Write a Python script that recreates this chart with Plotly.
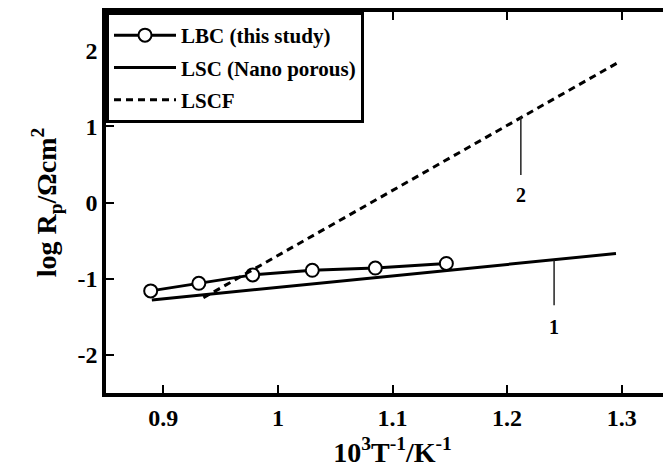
import plotly.graph_objects as go

# ---- data ----
lbc_x = [0.889, 0.931, 0.978, 1.030, 1.085, 1.147]
lbc_y = [-1.16, -1.06, -0.95, -0.89, -0.86, -0.80]

lsc_x = [0.890, 1.295]
lsc_y = [-1.28, -0.67]

lscf_x = [0.935, 1.296]
lscf_y = [-1.25, 1.83]

x_ticks = [0.9, 1.0, 1.1, 1.2, 1.3]
x_tick_labels = ["0.9", "1", "1.1", "1.2", "1.3"]
y_ticks = [-2, -1, 0, 1, 2]
y_tick_labels = ["-2", "-1", "0", "1", "2"]

# curve labels: (text, x, leader top y, leader bottom y, label y)
curve_labels = [("1", 1.241, -0.76, -1.35, -1.63),
                ("2", 1.212, 1.13, 0.36, 0.10)]

x_range = [0.85, 1.35]
y_range = [-2.5, 2.5]

FONT = "Liberation Serif"

fig = go.Figure()

fig.add_trace(go.Scatter(
    x=lbc_x, y=lbc_y, mode="lines+markers", name="<b>LBC (this study)</b>",
    line=dict(color="black", width=3),
    marker=dict(symbol="circle", size=13, color="white",
                line=dict(color="black", width=2)),
    legendgroup="a"))
fig.add_trace(go.Scatter(
    x=lsc_x, y=lsc_y, mode="lines", name="<b>LSC (Nano porous)</b>",
    line=dict(color="black", width=3), legendgroup="b"))
fig.add_trace(go.Scatter(
    x=lscf_x, y=lscf_y, mode="lines", name="<b>LSCF</b>",
    line=dict(color="black", width=3, dash="7px,5px"), legendgroup="c"))

# invisible trace to anchor the right-side tick axis
fig.add_trace(go.Scatter(x=[], y=[], yaxis="y2", showlegend=False,
                         hoverinfo="skip"))

for txt, lx, ytop, ybot, ylab in curve_labels:
    fig.add_shape(type="line", x0=lx, x1=lx, y0=ytop, y1=ybot,
                  xref="x", yref="y", line=dict(color="#222", width=1.5))
    fig.add_annotation(x=lx, y=ylab, text="<b>%s</b>" % txt, showarrow=False,
                       font=dict(family=FONT, size=20, color="black"))

fig.update_layout(
    width=671, height=473,
    margin=dict(l=98, r=0, t=0, b=88),
    plot_bgcolor="white", paper_bgcolor="white",
    font=dict(family=FONT, color="black"),
    showlegend=True,
    legend=dict(x=0, y=1, xanchor="left", yanchor="top",
                bgcolor="white", bordercolor="black", borderwidth=3,
                font=dict(family=FONT, size=21, color="black"),
                itemwidth=62, tracegroupgap=2, traceorder="grouped"),
    xaxis=dict(range=x_range, tickvals=x_ticks,
               ticktext=["<b>%s</b>" % t for t in x_tick_labels],
               ticks="inside", ticklen=8, tickwidth=2, tickcolor="black",
               showline=True, linecolor="black", linewidth=3.5, mirror="ticks",
               showgrid=False, zeroline=False,
               tickfont=dict(family=FONT, size=24, color="black"),
               title=dict(text="<b>10<sup>3</sup>T<sup>-1</sup>/K<sup>-1</sup></b>",
                          font=dict(family=FONT, size=28, color="black"),
                          standoff=14)),
    yaxis=dict(range=y_range, tickvals=y_ticks,
               ticktext=["<b>%s</b>" % t for t in y_tick_labels],
               ticks="inside", ticklen=8, tickwidth=2, tickcolor="black",
               showline=True, linecolor="black", linewidth=3.5, mirror=False,
               showgrid=False, zeroline=False,
               tickfont=dict(family=FONT, size=24, color="black"),
               title=dict(text="<b>log R<sub>p</sub>/Ωcm<sup>2</sup></b>",
                          font=dict(family=FONT, size=28, color="black"),
                          standoff=14)),
    yaxis2=dict(range=y_range, overlaying="y", side="right",
                tickvals=y_ticks, ticks="inside", ticklen=13, tickwidth=2,
                tickcolor="black", showticklabels=False, showline=False,
                showgrid=False, zeroline=False),
)

fig.write_html("out.html")
